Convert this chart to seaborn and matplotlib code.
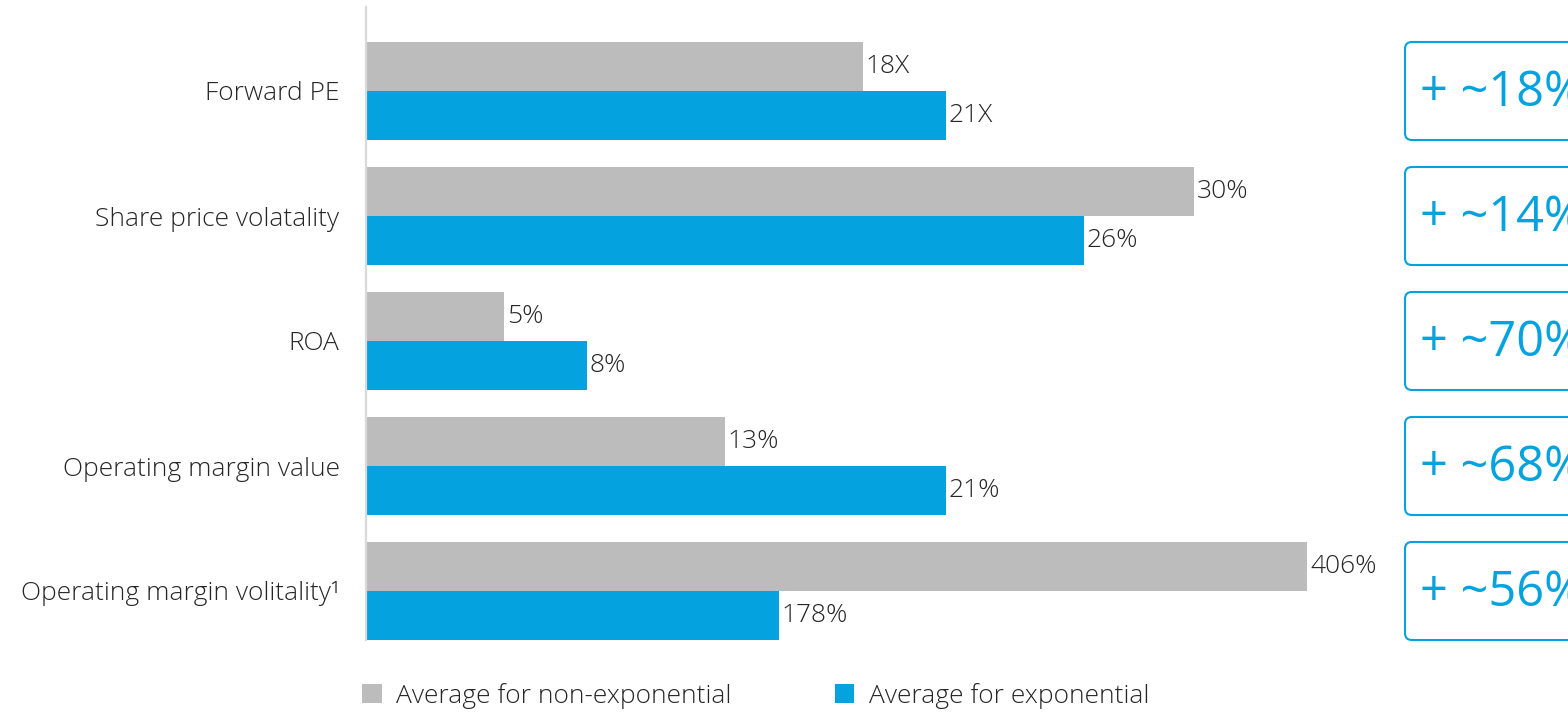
import numpy as np
import pandas as pd
import matplotlib
matplotlib.use("Agg")
import matplotlib.pyplot as plt
import seaborn as sns
from matplotlib.patches import FancyBboxPatch, Patch

categories = ["Forward PE", "Share price volatality", "ROA",
              "Operating margin value", "Operating margin volitality\u00b9"]
non_exp = [18, 30, 5, 13, 406]
exp = [21, 26, 8, 21, 178]
non_exp_labels = ["18X", "30%", "5%", "13%", "406%"]
exp_labels = ["21X", "26%", "8%", "21%", "178%"]
# last row is drawn on a compressed scale in the original
row_scale = [1, 1, 1, 1, 0.084]
deltas = ["+ ~18%", "+ ~14%", "+ ~70%", "+ ~68%", "+ ~56%"]
series = ["Average for non-exponential", "Average for exponential"]

gray = "#BBBCBB"
blue = "#04A2DF"
txt = "#262626"

sns.set_theme(style="white")
plt.rcParams['font.family'] = ['Open Sans', 'DejaVu Sans']
plt.rcParams['font.weight'] = 'light'

df = pd.DataFrame({
    "cat": categories * 2,
    "series": [series[0]] * 5 + [series[1]] * 5,
    "val": [v * s for v, s in zip(non_exp, row_scale)] + [v * s for v, s in zip(exp, row_scale)],
})

fig = plt.figure(figsize=(15.68, 7.12), dpi=100)
ax = fig.add_axes([366 / 1568, 72 / 712, 1024 / 1568, 633 / 712])

sns.barplot(data=df, y="cat", x="val", hue="series", order=categories,
            hue_order=series, palette=[gray, blue], width=0.784,
            linewidth=0, saturation=1, legend=False, ax=ax)

ax.set_xlim(0, 1024 / 27.6)
ax.set_ylim(4.392, -0.672)
ax.set_xlabel("")
ax.set_ylabel("")
ax.set_xticks([])
for s in ["top", "right", "bottom"]:
    ax.spines[s].set_visible(False)
ax.spines["left"].set_color("#D9D9D9")
ax.spines["left"].set_linewidth(1.6)
ax.tick_params(axis="y", length=0, pad=19, labelsize=19, labelcolor=txt)

ax.bar_label(ax.containers[0], labels=non_exp_labels, padding=2, fontsize=19, color=txt)
ax.bar_label(ax.containers[1], labels=exp_labels, padding=2, fontsize=19, color=txt)

# right-hand boxes with the change
x0 = (1405 - 366) / 27.6
for i, d in enumerate(deltas):
    box = FancyBboxPatch((x0, i - 0.392), 12, 0.784,
                         boxstyle="round,pad=0,rounding_size=0.25",
                         mutation_aspect=27.6 / 125, facecolor="white",
                         edgecolor=blue, linewidth=1.5, clip_on=False)
    ax.add_patch(box)
    ax.text((1420 - 366) / 27.6, i + 0.02, d, fontsize=35, color=blue,
            fontweight="normal", va="center", ha="left", clip_on=False)

handles = [Patch(facecolor=gray, edgecolor="none"), Patch(facecolor=blue, edgecolor="none")]
fig.legend(handles, series, loc="center left", bbox_to_anchor=(362 / 1568, 16 / 712),
           ncol=2, frameon=False, fontsize=19, handlelength=0.75, handleheight=0.75,
           handletextpad=0.55, columnspacing=3.9, borderpad=0, borderaxespad=0,
           labelcolor=txt)

fig.savefig("out.png", dpi=100)
